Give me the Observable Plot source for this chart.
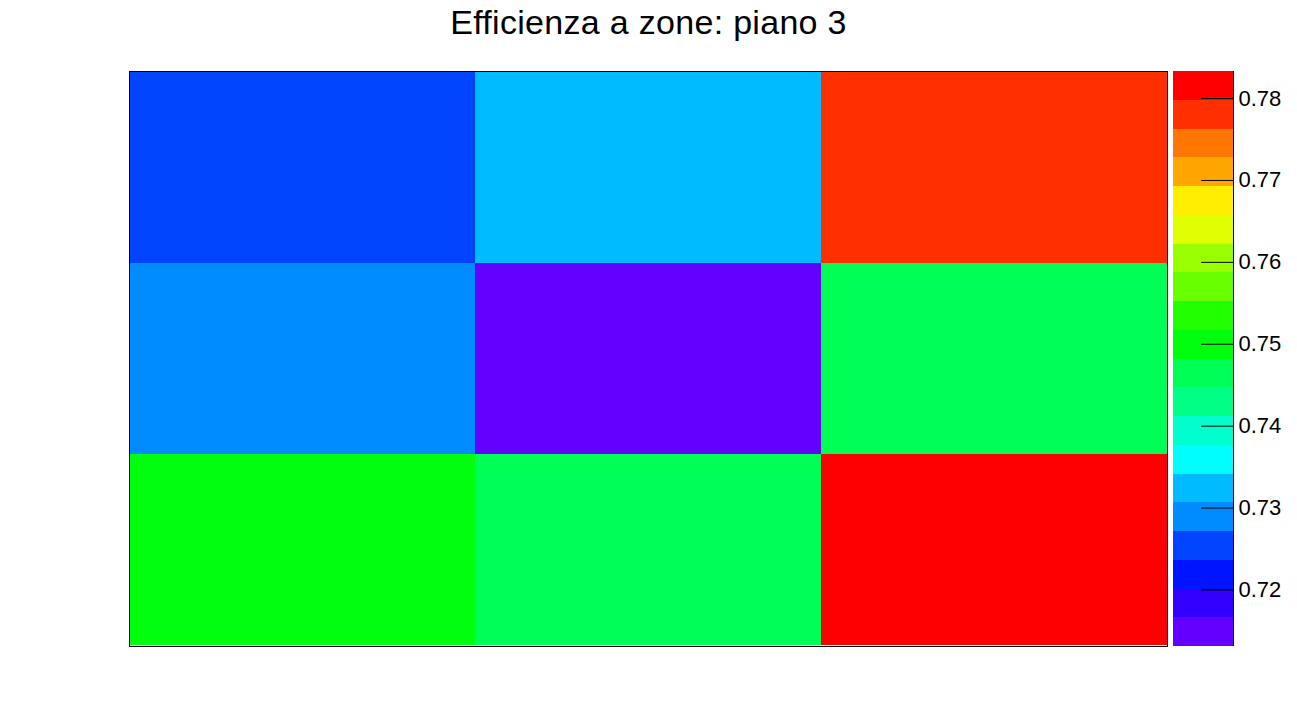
<!DOCTYPE html>
<html>
<head>
<meta charset="utf-8">
<script src="https://cdn.jsdelivr.net/npm/d3@7"></script>
<script src="https://cdn.jsdelivr.net/npm/@observablehq/plot@0.6"></script>
<style>
  html, body { margin: 0; padding: 0; background: white; }
  #wrap { position: relative; width: 1297px; height: 718px; overflow: hidden; font-family: "Liberation Sans", Arial, Helvetica, sans-serif; }
  #title { position: absolute; top: 3px; left: 0; width: 1297px; text-align: center; font-size: 34px; color: black; letter-spacing: 0.3px; }
  #main { position: absolute; top: 50px; left: 0; }
  #bar { position: absolute; top: 50px; left: 1173px; }
  svg { font-family: "Liberation Sans", Arial, Helvetica, sans-serif; }
</style>
</head>
<body>
<div id="wrap">
  <div id="title">Efficienza a zone: piano 3</div>
  <div id="main"></div>
  <div id="bar"></div>
</div>
<script>
// ---- data ----
const title = "Efficienza a zone: piano 3";
const columns = [0, 1, 2];
const rowsIdx = [0, 1, 2];            // 0 = bottom row
const rowBottom = [0.7500, 0.7470, 0.7833];
const rowMiddle = [0.7289, 0.7131, 0.7465];
const rowTop    = [0.7254, 0.7324, 0.7781];
const barTicks  = [0.72, 0.73, 0.74, 0.75, 0.76, 0.77, 0.78];
const nContours = 20;
const palette = [
  "#6300ff", "#3300ff", "#0014ff", "#0044ff", "#008bff",
  "#00bbff", "#00fffc", "#00ffcc", "#00ff85", "#00ff55",
  "#00ff0e", "#22ff00", "#69ff00", "#99ff00", "#e0ff00",
  "#ffee00", "#ffa700", "#ff7700", "#ff3000", "#ff0000"
];

// ---- build table ----
const grid = [rowBottom, rowMiddle, rowTop];
const cells = [];
rowsIdx.forEach(r => columns.forEach(c => cells.push({col: c, row: r, value: grid[r][c]})));
const [zmin, zmax] = d3.extent(cells, d => d.value);
const dz = (zmax - zmin) / nContours;
const thresholds = d3.range(1, nContours).map(i => zmin + i * dz);
const bands = d3.range(nContours).map(i => ({lo: zmin + i * dz, hi: zmin + (i + 1) * dz, mid: zmin + (i + 0.5) * dz}));
const colorOpts = {type: "threshold", domain: thresholds, range: palette};

const H = 668;
const main = Plot.plot({
  width: 1170,
  height: H,
  marginLeft: 129,
  marginRight: 3,
  marginTop: 21,
  marginBottom: 72,
  x: {type: "band", domain: columns, padding: 0, axis: null},
  y: {type: "band", domain: [2, 1, 0], padding: 0, axis: null},
  color: colorOpts,
  style: {background: "transparent"},
  marks: [
    Plot.cell(cells, {x: "col", y: "row", fill: "value", shapeRendering: "crispEdges"}),
    Plot.frame({stroke: "black", strokeWidth: 1})
  ]
});
document.getElementById("main").appendChild(main);

const bar = Plot.plot({
  width: 124,
  height: H,
  marginLeft: 0,
  marginRight: 64,
  marginTop: 21,
  marginBottom: 72,
  x: {domain: [0, 1], axis: null},
  y: {domain: [zmin, zmax]},
  color: colorOpts,
  style: {background: "transparent", fontSize: "22px", color: "black"},
  marks: [
    Plot.rect(bands, {x1: 0, x2: 1, y1: "lo", y2: "hi", fill: "mid", shapeRendering: "crispEdges"}),
    Plot.ruleY(barTicks, {x1: 0.47, x2: 1, stroke: "black"}),
    Plot.ruleX([1], {stroke: "black"}),
    Plot.axisY(barTicks, {anchor: "right", tickSize: 0, tickPadding: 5, tickFormat: d3.format(".2f"), fontSize: 22})
  ]
});
document.getElementById("bar").appendChild(bar);
</script>
</body>
</html>
